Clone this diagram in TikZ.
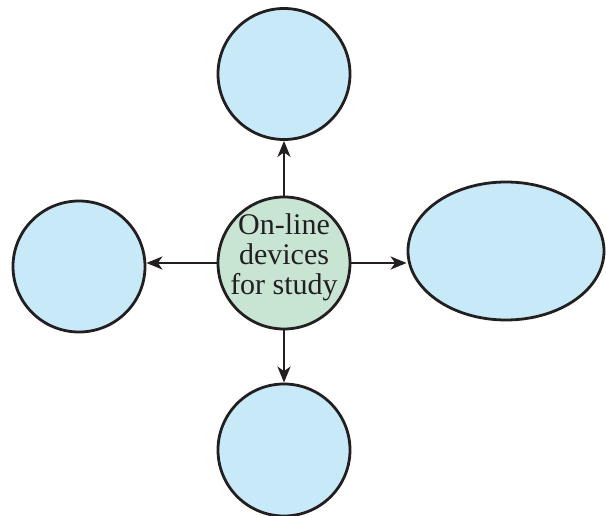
\documentclass[tikz,border=0pt]{standalone}
\usepackage{fontspec}
\setmainfont{Liberation Serif}
\usetikzlibrary{shapes.geometric,arrows.meta}
\definecolor{bubble}{RGB}{200,233,248}
\definecolor{hubfill}{RGB}{200,229,212}
\definecolor{ink}{RGB}{35,31,32}
\begin{document}
\begin{tikzpicture}[x=1pt,y=-1pt,
  bubblestyle/.style={ellipse, draw=ink, line width=2.8pt, fill=bubble, inner sep=0pt},
  hubstyle/.style={ellipse, draw=ink, line width=2.8pt, fill=hubfill, inner sep=0pt},
  hubtextstyle/.style={align=center, inner sep=0pt, font=\fontsize{30}{30}\selectfont, text=ink},
  arr/.style={draw=ink, line width=2.3pt, -{Stealth[length=16pt,width=13pt,inset=4.5pt]}}]
\useasboundingbox (0,0) rectangle (606,516);
\node[hubstyle, minimum width=132pt, minimum height=132pt] (hub) at (284,263) {};
\node[hubtextstyle] (hubtext) at (284,257) {On-line\\devices\\for study};
\node[bubblestyle, minimum width=132pt, minimum height=131pt] (top) at (284,74) {};
\node[bubblestyle, minimum width=132pt, minimum height=131pt] (left) at (79,266.5) {};
\node[bubblestyle, minimum width=196pt, minimum height=138pt] (right) at (506,251) {};
\node[bubblestyle, minimum width=132pt, minimum height=132pt] (bottom) at (284,450) {};
\draw[arr] (hub.north) -- (top.south);
\draw[arr] (hub.south) -- (bottom.north);
\draw[arr] (hub.west) -- (left.east |- hub.west);
\draw[arr] (hub.east) -- (right.west |- hub.east);
\end{tikzpicture}
\end{document}
